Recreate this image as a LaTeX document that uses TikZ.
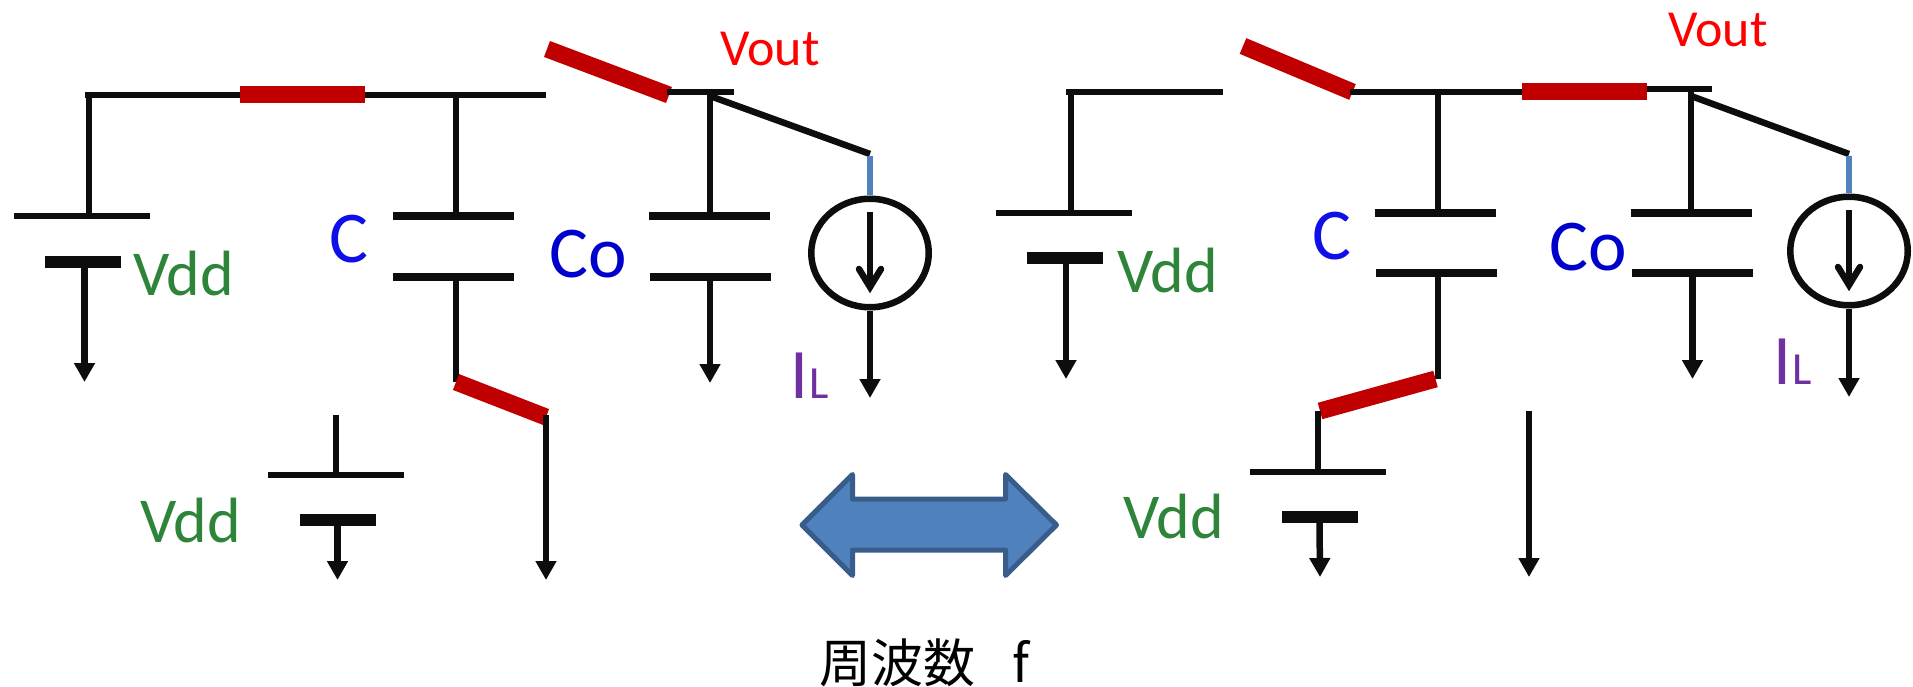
\documentclass[tikz,border=0pt]{standalone}
\usepackage{fontspec}
\setmainfont{Carlito}
\newfontfamily\cjkfont{Noto Sans CJK JP}
\usetikzlibrary{arrows.meta,calc,positioning,shapes.geometric}
\definecolor{wireblk}{HTML}{0D0D0D}
\definecolor{swred}{HTML}{C00000}
\definecolor{vddgreen}{HTML}{2E8539}
\definecolor{capblue}{HTML}{0F0FE8}
\definecolor{coblue}{HTML}{0000CC}
\definecolor{ilpurple}{HTML}{7030A0}
\definecolor{arrblue}{HTML}{4F81BD}
\definecolor{arredge}{HTML}{385D8A}
\tikzset{
    wiresty/.style={draw=wireblk,line width=6.5pt},
    busty/.style={draw=wireblk,line width=6.5pt},
    gndsty/.style={wiresty,-{Triangle[length=19pt,width=20pt]}},
    swsty/.style={draw=swred,line width=17pt},
    barsty/.style={fill=swred,rectangle,inner sep=0pt,minimum width=125pt,minimum height=17pt},
    battpsty/.style={fill=wireblk,rectangle,inner sep=0pt,minimum width=136pt,minimum height=6.5pt},
    battnsty/.style={fill=wireblk,rectangle,inner sep=0pt,minimum width=76pt,minimum height=12pt},
    capsty/.style={fill=wireblk,rectangle,inner sep=0pt,minimum width=121pt,minimum height=8.5pt},
    srcsty/.style={draw=wireblk,line width=6.5pt,ellipse,inner sep=0pt,minimum width=117.5pt,minimum height=108.5pt},
    wingsty/.style={draw=wireblk,line width=6.5pt,line cap=round,miter limit=10},
    tapsty/.style={draw=arrblue,line width=6.5pt},
    vddsty/.style={anchor=base west,inner sep=0pt,text=vddgreen,font=\fontsize{64}{68}\selectfont},
    voutsty/.style={anchor=base west,inner sep=0pt,text=red,font=\fontsize{52}{56}\selectfont},
    capnamesty/.style={anchor=base west,inner sep=0pt,font=\fontsize{73}{76}\selectfont},
    ilsty/.style={anchor=base west,inner sep=0pt,text=ilpurple,font=\fontsize{71}{75}\selectfont},
}
\newcommand{\ilname}{I\kern1pt{\fontsize{46}{48}\selectfont L}}
\begin{document}
\begin{tikzpicture}[x=1pt,y=-1pt]
  \useasboundingbox (0,0) rectangle (1913,687);

  % left circuit
  \node[battpsty] (LBp) at (82,216) {};
  \node[battnsty] (LBn) at (83,262) {};
  \node[capsty] (LCt) at (453,216) {};
  \node[capsty] (LCb) at (453.5,277) {};
  \node[capsty] (LOt) at (709.5,216) {};
  \node[capsty] (LOb) at (710,277) {};
  \node[barsty] (LBar) at (302.5,95) {};
  \node[srcsty] (LSrc) at (870,253) {};
  \coordinate (LBusA) at (85,95);
  \coordinate (LBusB) at (546,95);
  \coordinate (LVdrop) at (89,95);
  \coordinate (LCdrop) at (456,95);
  \coordinate (LOutA) at (667,92);
  \coordinate (LOutB) at (734,92);
  \coordinate (LOdrop) at (710,92);
  \coordinate (LDiag) at (870,154);
  \coordinate (LSwA) at (456,382);
  \coordinate (LSwB) at (546,417);
  \coordinate (LTip) at (870,287);

  \draw[busty] (LBusA) -- (LBar);
  \draw[busty] (LBar) -- (LBusB);
  \draw[wiresty] (LVdrop) -- (LVdrop |- LBp.north);
  \draw[gndsty] (LBn.south -| 84.5,0) -- (84.5,382);
  \draw[wiresty] (LCdrop) -- (LCdrop |- LCt.north);
  \draw[wiresty] (LCb.south -| LCdrop) -- (LCdrop |- LSwA);
  \draw[swsty] (547,49) -- (669,95);
  \draw[swsty] (LSwA) -- (LSwB);
  \draw[busty] (LOutA) -- (LOutB);
  \draw[wiresty] (LOdrop) -- (LOdrop |- LOt.north);
  \draw[gndsty] (LOb.south -| LOdrop) -- (710,383);
  \draw[busty] (LOdrop) ++(0,4) -- (LDiag);
  \draw[tapsty] (LDiag) ++(0,2) -- (LSrc.north);
  \draw[wiresty] (870,212) -- (LTip);
  \draw[wingsty] (LTip) ++(-11,-18) -- ++(11,18) -- ++(11,-18);
  \draw[gndsty] (LSrc.south) -- (870,398);

  \node[battpsty] (LLp) at (336,475) {};
  \node[battnsty] (LLn) at (337.5,520) {};
  \coordinate (LLdrop) at (336,415);
  \coordinate (LRdrop) at (546,415);
  \draw[wiresty] (LLdrop) -- (LLp.north);
  \draw[gndsty] (LLn.south) -- (337.5,580);
  \draw[gndsty] (LRdrop) -- (546,580);

  \node[vddsty] (LVdd) at (133,295) {Vdd};
  \node[vddsty] (LLVdd) at (140,542) {Vdd};
  \node[capnamesty,text=capblue] (LC) at (329.5,262) {C};
  \node[capnamesty,text=coblue] (LO) at (549.5,277) {Co};
  \node[voutsty] (LVout) at (720,66) {Vout};
  \node[ilsty] (LIL) at (790,398) {\ilname};

  % right circuit
  \node[battpsty] (RBp) at (1064,213) {};
  \node[battnsty] (RBn) at (1065,258) {};
  \node[capsty] (RCt) at (1435.5,213) {};
  \node[capsty] (RCb) at (1436.5,273) {};
  \node[capsty] (ROt) at (1691.5,213) {};
  \node[capsty] (ROb) at (1692.5,273) {};
  \node[barsty] (RBar) at (1584.5,92) {};
  \node[srcsty] (RSrc) at (1849,251) {};
  \coordinate (RBusA) at (1066,92);
  \coordinate (RBusB) at (1222.5,92);
  \coordinate (RVdrop) at (1071,92);
  \coordinate (RMidA) at (1350,92);
  \coordinate (RCdrop) at (1438,92);
  \coordinate (ROutB) at (1712,89);
  \coordinate (ROdrop) at (1691,89);
  \coordinate (RDiag) at (1849,154);
  \coordinate (RSwA) at (1320,411);
  \coordinate (RSwB) at (1435.5,379);
  \coordinate (RTip) at (1849,285);

  \draw[busty] (RBusA) -- (RBusB);
  \draw[wiresty] (RVdrop) -- (RVdrop |- RBp.north);
  \draw[gndsty] (RBn.south -| 1066,0) -- (1066,379);
  \draw[swsty] (1243,46) -- (1352.5,92);
  \draw[busty] (RMidA) -- (RBar);
  \draw[busty] (RBar.east |- ROutB) -- (ROutB);
  \draw[wiresty] (RCdrop) -- (RCdrop |- RCt.north);
  \draw[wiresty] (RCb.south -| RCdrop) -- (RCdrop |- RSwB);
  \draw[swsty] (RSwA) -- (RSwB);
  \draw[wiresty] (ROdrop) -- (ROdrop |- ROt.north);
  \draw[gndsty] (ROb.south) -- (1692.5,379);
  \draw[busty] (ROdrop) ++(0,7) -- (RDiag);
  \draw[tapsty] (RDiag) ++(0,2) -- (RSrc.north);
  \draw[wiresty] (1849,210) -- (RTip);
  \draw[wingsty] (RTip) ++(-11,-18) -- ++(11,18) -- ++(11,-18);
  \draw[gndsty] (RSrc.south) -- (1849,397);

  \node[battpsty] (RLp) at (1318,472) {};
  \node[battnsty] (RLn) at (1319.5,517) {};
  \coordinate (RLdrop) at (1318,411);
  \coordinate (RRdrop) at (1529,411);
  \draw[wiresty] (RLdrop) -- (RLp.north);
  \draw[gndsty] (RLn.south) -- (1320,577);
  \draw[gndsty] (RRdrop) -- (1529,577);

  \node[vddsty] (RVdd) at (1117,292) {Vdd};
  \node[vddsty] (RLVdd) at (1123,538) {Vdd};
  \node[capnamesty,text=capblue] (RC) at (1312,259) {C};
  \node[capnamesty,text=coblue] (RO) at (1549,270) {Co};
  \node[voutsty] (RVout) at (1668,47) {Vout};
  \node[ilsty] (RIL) at (1773.5,384) {\ilname};

  % double arrow and axis name
  \draw[draw=arredge,fill=arrblue,line width=5pt,line join=round]
    (802,525) -- (852.5,474.5) -- (852.5,499) -- (1005.5,499) -- (1005.5,474.5) -- (1056.5,525)
    -- (1005.5,575.5) -- (1005.5,550) -- (852.5,550) -- (852.5,575.5) -- cycle;
  \node[anchor=base west,inner sep=0pt,font=\cjkfont\fontsize{52}{54}\selectfont] (Freq) at (819,682) {周波数\hspace*{37pt}f};
\end{tikzpicture}
\end{document}
